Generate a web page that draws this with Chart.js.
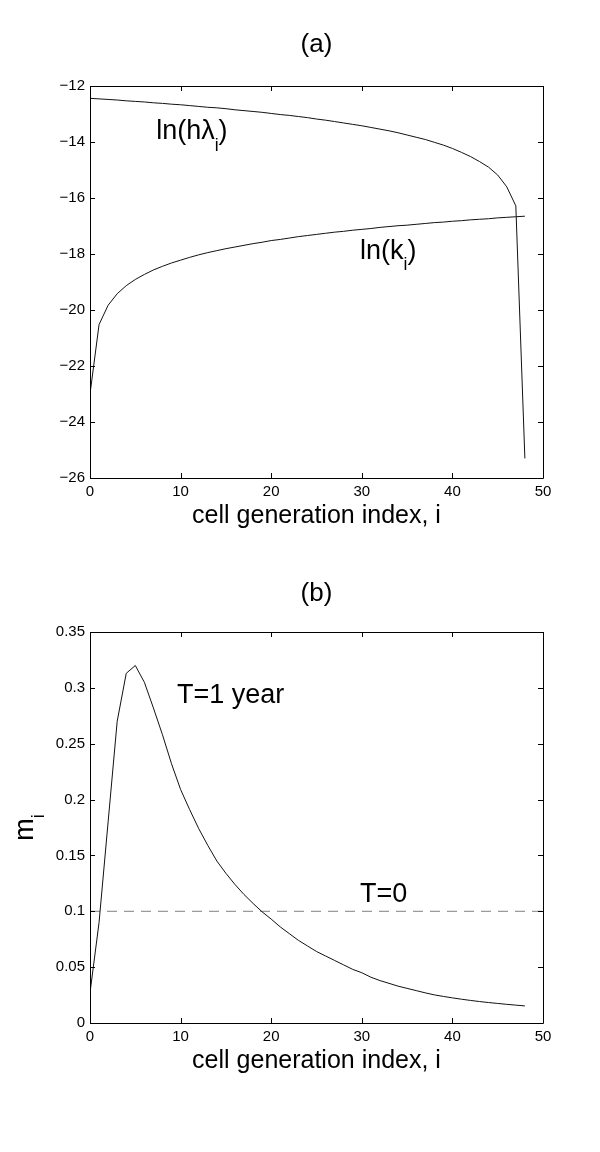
<!DOCTYPE html>
<html>
<head>
<meta charset="utf-8">
<script src="https://cdn.jsdelivr.net/npm/chart.js@4"></script>
<style>
  body { margin: 0; background: #fff; }
  canvas { display: block; }
</style>
</head>
<body>
<canvas id="chart-a" width="600" height="576"></canvas>
<canvas id="chart-b" width="600" height="576"></canvas>
<script>
// cell generation index i = 0..48
const genIndex = [0, 1, 2, 3, 4, 5, 6, 7, 8, 9, 10, 11, 12, 13, 14, 15, 16, 17, 18, 19, 20,
  21, 22, 23, 24, 25, 26, 27, 28, 29, 30, 31, 32, 33, 34, 35, 36, 37, 38, 39, 40,
  41, 42, 43, 44, 45, 46, 47, 48];

// (a) ln(h lambda_i)
const lnHLambda = [-12.44, -12.46, -12.48, -12.50, -12.53, -12.55, -12.57, -12.60, -12.62, -12.65,
  -12.67, -12.70, -12.73, -12.76, -12.78, -12.81, -12.85, -12.88, -12.91, -12.94,
  -12.98, -13.02, -13.05, -13.09, -13.13, -13.18, -13.22, -13.27, -13.32, -13.37,
  -13.42, -13.48, -13.54, -13.60, -13.67, -13.75, -13.83, -13.91, -14.01, -14.11,
  -14.23, -14.37, -14.52, -14.70, -14.90, -15.18, -15.60, -16.28, -25.30];

// (a) ln(k_i)
const lnK = [-23.00, -20.52, -19.83, -19.42, -19.13, -18.91, -18.73, -18.57, -18.44, -18.32,
  -18.22, -18.12, -18.03, -17.95, -17.88, -17.81, -17.75, -17.69, -17.63, -17.58,
  -17.52, -17.48, -17.43, -17.38, -17.34, -17.30, -17.26, -17.22, -17.19, -17.15,
  -17.12, -17.09, -17.05, -17.02, -16.99, -16.97, -16.94, -16.91, -16.88, -16.86,
  -16.83, -16.81, -16.78, -16.76, -16.74, -16.71, -16.69, -16.67, -16.65];

// (b) m_i at T = 1 year
const mOneYear = [0.027, 0.090, 0.180, 0.270, 0.313, 0.320, 0.305, 0.282, 0.258, 0.232,
  0.209, 0.191, 0.174, 0.159, 0.145, 0.134, 0.124, 0.115, 0.107, 0.0995,
  0.093, 0.086, 0.080, 0.074, 0.069, 0.064, 0.060, 0.056, 0.052, 0.048,
  0.045, 0.041, 0.038, 0.0355, 0.033, 0.031, 0.029, 0.027, 0.0252, 0.0238,
  0.0225, 0.0213, 0.0202, 0.0192, 0.0183, 0.0175, 0.0167, 0.016, 0.0153];

// (b) m_i at T = 0
const tZeroX = [0, 50];
const tZeroY = [0.1, 0.1];

// tick labels
const xTicks = [0, 10, 20, 30, 40, 50];
const yTicksA = [-26, -24, -22, -20, -18, -16, -14, -12];
const yTicksB = [0, 0.05, 0.1, 0.15, 0.2, 0.25, 0.3, 0.35];

const FONT = "'Liberation Sans', Arial, Helvetica, sans-serif";
Chart.defaults.font.family = FONT;
Chart.defaults.color = '#000';

const toPoints = (xs, ys) => xs.map((x, i) => ({ x: x, y: ys[i] }));
const fmt = v => String(+v.toFixed(4)).replace('-', '\u2212');

// text with subscripts, drawn at the current origin on the baseline
function richText(ctx, parts, size, measureOnly) {
  let w = 0;
  parts.forEach(p => {
    const s = p.sub ? size * 0.65 : size;
    ctx.font = s + 'px ' + FONT;
    if (!measureOnly) ctx.fillText(p.t, w, p.sub ? size * 0.42 : 0);
    w += ctx.measureText(p.t).width;
  });
  return w;
}

// MATLAB-like box with inward ticks on all four sides
const boxTicks = {
  id: 'boxTicks',
  afterDraw(chart) {
    const { ctx, chartArea: a, scales: { x, y } } = chart;
    const len = 5;
    ctx.save();
    ctx.strokeStyle = '#000';
    ctx.lineWidth = 1;
    ctx.beginPath();
    ctx.rect(a.left + 0.5, a.top + 0.5, a.width, a.height);
    x.ticks.forEach(t => {
      const px = Math.round(x.getPixelForValue(t.value)) + 0.5;
      ctx.moveTo(px, a.bottom); ctx.lineTo(px, a.bottom - len);
      ctx.moveTo(px, a.top); ctx.lineTo(px, a.top + len);
    });
    y.ticks.forEach(t => {
      const py = Math.round(y.getPixelForValue(t.value)) + 0.5;
      ctx.moveTo(a.left, py); ctx.lineTo(a.left + len, py);
      ctx.moveTo(a.right, py); ctx.lineTo(a.right - len, py);
    });
    ctx.stroke();
    ctx.restore();
  }
};

// in-plot annotations and the rotated y label
const textLabels = {
  id: 'textLabels',
  afterDraw(chart, args, opts) {
    const { ctx, chartArea: a, scales: { x, y } } = chart;
    ctx.save();
    ctx.fillStyle = '#000';
    ctx.textBaseline = 'alphabetic';
    ctx.textAlign = 'left';
    (opts.items || []).forEach(it => {
      ctx.save();
      ctx.translate(x.getPixelForValue(it.x), y.getPixelForValue(it.y));
      richText(ctx, it.parts, it.size);
      ctx.restore();
    });
    if (opts.yTitle) {
      const t = opts.yTitle;
      const w = richText(ctx, t.parts, t.size, true);
      ctx.save();
      ctx.translate(t.x, (a.top + a.bottom) / 2);
      ctx.rotate(-Math.PI / 2);
      ctx.translate(-w / 2, 0);
      richText(ctx, t.parts, t.size);
      ctx.restore();
    }
    ctx.restore();
  }
};

function makeChart(id, cfg) {
  const ctx = document.getElementById(id).getContext('2d');
  return new Chart(ctx, {
    type: 'line',
    data: { datasets: cfg.datasets },
    options: {
      responsive: false,
      animation: false,
      layout: { padding: { left: 0, right: 57, top: 0, bottom: 0 } },
      elements: { point: { radius: 0 }, line: { tension: 0, borderWidth: 1 } },
      plugins: {
        legend: { display: false },
        tooltip: { enabled: false },
        title: {
          display: true,
          fullSize: false,
          text: cfg.title,
          font: { size: 26, weight: 'normal' },
          padding: cfg.titlePadding
        },
        textLabels: { items: cfg.labels, yTitle: cfg.yTitle }
      },
      scales: {
        x: {
          type: 'linear',
          min: 0,
          max: 50,
          afterBuildTicks: s => { s.ticks = xTicks.map(v => ({ value: v })); },
          afterFit: s => { s.height = cfg.xHeight; },
          grid: { display: false, drawTicks: false },
          border: { display: false },
          ticks: { padding: 5, font: { size: 15 }, callback: fmt, maxRotation: 0 },
          title: {
            display: true,
            text: 'cell generation index, i',
            font: { size: 25 },
            padding: { top: 0, bottom: cfg.xTitleBottom }
          }
        },
        y: {
          type: 'linear',
          min: cfg.yMin,
          max: cfg.yMax,
          afterBuildTicks: s => { s.ticks = cfg.yTicks.map(v => ({ value: v })); },
          afterFit: s => { s.width = 90; },
          grid: { display: false, drawTicks: false },
          border: { display: false },
          ticks: { padding: 5, font: { size: 15 }, callback: fmt }
        }
      }
    },
    plugins: [boxTicks, textLabels]
  });
}

makeChart('chart-a', {
  title: '(a)',
  titlePadding: { top: 29, bottom: 25.8 },
  xHeight: 98,
  xTitleBottom: 45,
  yMin: -26,
  yMax: -12,
  yTicks: yTicksA,
  datasets: [
    { data: toPoints(genIndex, lnHLambda), borderColor: '#111' },
    { data: toPoints(genIndex, lnK), borderColor: '#111' }
  ],
  labels: [
    { x: 7.3, y: -13.9, size: 27, parts: [{ t: 'ln(h\u03bb' }, { t: 'i', sub: true }, { t: ')' }] },
    { x: 29.8, y: -18.18, size: 27, parts: [{ t: 'ln(k' }, { t: 'i', sub: true }, { t: ')' }] }
  ]
});

makeChart('chart-b', {
  title: '(b)',
  titlePadding: { top: 2.4, bottom: 22.4 },
  xHeight: 129,
  xTitleBottom: 76,
  yMin: 0,
  yMax: 0.35,
  yTicks: yTicksB,
  datasets: [
    { data: toPoints(genIndex, mOneYear), borderColor: '#111' },
    { data: toPoints(tZeroX, tZeroY), borderColor: '#808080', borderDash: [10, 7] }
  ],
  labels: [
    { x: 9.6, y: 0.286, size: 27, parts: [{ t: 'T=1 year' }] },
    { x: 29.8, y: 0.1086, size: 27, parts: [{ t: 'T=0' }] }
  ],
  yTitle: { x: 33, size: 27, parts: [{ t: 'm' }, { t: 'i', sub: true }] }
});
</script>
</body>
</html>
